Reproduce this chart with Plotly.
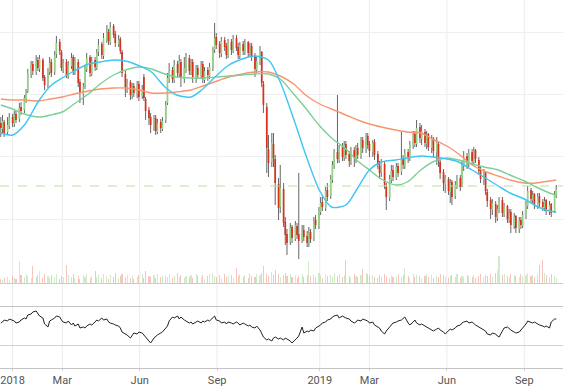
import pandas as pd
import plotly.graph_objects as go

# ---------------- price candles (one candle every 2 trading days) ----------------
opens = [160,154,161,151,157,166,159,169,164,176,
         173,184,192,209,219,211,223,214,223,206,
         199,211,221,211,229,241,231,214,221,207,
         217,226,211,221,201,189,197,214,226,209,
         223,215,231,239,227,244,251,241,257,249,
         239,244,231,209,194,201,187,197,189,199,
         187,206,184,173,166,157,165,151,161,154,
         163,180,204,213,203,219,209,221,204,214,
         225,211,221,205,215,207,219,203,213,207,
         215,233,246,239,229,243,237,227,241,232,
         245,236,227,239,231,241,229,237,227,213,
         221,231,199,176,134,121,139,124,99,76,
         94,61,49,41,56,44,57,49,43,53,
         47,39,51,45,63,57,71,81,75,93,
         87,103,117,131,123,136,125,139,129,121,
         133,124,135,127,143,134,147,139,131,141,
         129,117,111,119,97,85,103,113,105,117,
         111,125,117,131,125,137,149,139,156,144,
         151,139,149,135,145,131,139,121,111,99,
         104,91,101,87,97,105,97,117,127,119,
         131,121,133,123,113,103,111,91,83,73,
         79,65,73,83,69,77,63,71,57,67,
         54,63,57,67,77,93,83,89,77,87,
         81,75,83,71,79,71,87]
highs = [166,168,163,166,170,169,172,172,180,181,
         188,194,214,222,222,228,226,228,225,208,
         215,226,224,232,247,244,233,224,224,222,
         230,228,226,224,204,200,218,230,228,226,
         226,234,244,241,250,258,254,261,259,252,
         248,246,233,212,204,203,200,200,202,202,
         198,209,186,176,170,168,168,164,164,166,
         182,210,220,216,223,222,228,224,226,230,
         228,224,224,218,218,222,222,216,216,220,
         236,260,250,242,246,246,240,244,244,248,
         248,240,241,242,244,242,240,240,230,226,
         237,232,202,180,148,150,150,128,105,118,
         100,66,54,60,58,62,60,110,58,58,
         52,56,54,66,68,76,86,88,96,100,
         108,122,134,188,138,140,142,142,132,136,
         136,138,140,146,146,150,150,142,143,144,
         132,122,124,122,100,108,118,118,120,120,
         151,128,134,134,142,152,152,163,160,158,
         154,152,150,148,146,146,141,124,114,108,
         106,104,103,102,108,108,122,132,130,134,
         134,136,134,126,116,114,112,94,86,84,
         82,78,86,86,80,78,74,74,70,68,
         66,66,72,82,97,95,92,90,90,90,
         84,86,84,82,80,92,98]
lows = [146,150,146,148,154,156,156,160,161,168,
        170,180,190,205,208,208,212,211,202,193,
        195,208,206,208,225,228,212,210,205,204,
        214,208,208,196,180,178,194,211,206,207,
        212,213,227,224,224,240,238,238,245,236,
        236,229,206,186,190,183,184,186,185,182,
        184,182,163,158,150,152,148,149,150,152,
        160,178,200,200,200,206,206,196,200,210,
        208,208,200,200,204,204,200,200,202,204,
        212,230,234,225,226,232,224,225,228,230,
        232,224,224,228,228,226,226,222,206,210,
        218,196,170,110,106,116,116,78,63,70,
        56,38,28,38,40,42,44,24,40,42,
        36,36,40,42,54,54,68,72,72,82,
        84,100,114,120,120,122,122,124,116,118,
        116,120,124,124,130,130,134,126,126,123,
        114,104,106,94,73,82,100,102,103,106,
        108,114,114,120,122,134,136,136,140,138,
        136,134,132,130,126,118,116,104,92,90,
        88,80,78,84,94,92,96,112,114,116,
        118,118,120,108,100,98,88,76,64,68,
        60,62,70,66,66,60,60,50,54,50,
        50,54,55,64,74,80,80,74,74,76,
        72,72,68,68,66,70,85]
closes = [155,162,150,158,165,160,168,163,175,172,
          185,190,210,218,212,222,215,224,205,198,
          212,220,210,228,240,232,215,220,208,218,
          225,212,222,200,190,196,215,225,210,222,
          216,230,238,228,245,250,242,256,248,240,
          243,232,210,195,200,188,196,190,198,186,
          194,185,172,165,158,164,152,160,155,162,
          178,205,212,204,218,210,222,205,215,224,
          212,220,206,214,208,218,204,212,208,216,
          232,245,238,230,242,236,228,240,233,244,
          235,228,238,232,240,230,236,226,214,222,
          232,200,178,135,120,140,125,100,75,95,
          60,48,40,55,45,58,48,42,52,46,
          40,50,44,62,58,72,80,76,92,86,
          104,118,130,124,135,126,138,128,122,132,
          125,134,128,142,135,146,138,132,140,128,
          118,110,120,98,86,104,112,106,116,110,
          124,118,130,126,138,148,140,155,145,152,
          140,148,136,144,132,140,122,110,100,105,
          92,100,86,98,104,96,118,126,120,130,
          122,132,124,112,104,110,92,82,74,80,
          66,74,82,70,76,64,70,58,66,55,
          62,58,68,78,92,84,88,78,86,80,
          76,82,72,78,70,88,94]
volumes = [4,3,5,6,3,7,5,4,22,8,
           6,9,7,5,17,6,8,12,5,9,
           7,5,8,6,9,4,7,6,18,8,
           6,9,5,7,4,8,6,9,5,7,
           12,6,8,5,9,7,4,8,6,10,
           5,7,9,6,8,5,7,4,6,8,
           9,5,12,7,6,8,5,9,6,7,
           8,6,9,5,7,10,6,8,5,7,
           6,8,5,9,7,6,8,4,7,9,
           10,7,6,8,5,9,6,7,8,5,
           15,7,9,6,8,5,10,7,6,9,
           8,10,17,9,7,11,8,13,9,6,
           8,10,7,9,6,8,5,7,9,6,
           8,22,7,9,6,10,8,5,9,7,
           8,6,10,7,9,6,8,23,7,5,
           9,7,6,8,14,10,9,7,8,6,
           5,8,6,9,7,5,8,6,7,9,
           6,8,15,7,5,9,6,8,7,5,
           7,9,6,8,5,7,6,9,8,6,
           5,7,8,6,9,5,7,6,8,7,
           6,8,5,7,9,6,8,7,9,6,
           10,13,27,8,9,7,6,9,8,7,
           6,9,7,8,10,7,8,6,9,18,
           23,10,8,6,9,7,5]
oscillator = [45,46,48,47,49,48,47,45,46,48,
              50,49,53,54,56,57,55,52,50,44,
              41,47,48,50,52,51,48,46,45,47,
              43,45,42,44,40,41,40,42,44,43,
              46,48,47,50,48,49,46,45,44,43,
              42,40,36,34,33,30,32,35,34,36,
              35,33,31,28,25,30,32,33,35,36,
              40,42,47,51,50,52,49,51,48,47,
              45,46,44,46,47,45,47,46,48,47,
              51,52,48,47,45,46,44,46,45,44,
              46,45,43,45,44,42,43,41,40,42,
              38,35,31,28,29,27,30,31,29,30,
              28,30,29,27,25,28,30,32,41,35,
              37,36,38,37,40,42,43,45,46,48,
              49,51,52,53,50,52,51,50,49,47,
              45,46,48,47,49,48,47,45,46,43,
              41,40,37,34,37,41,43,45,46,47,
              48,50,51,45,43,46,48,45,43,44,
              42,41,40,38,37,39,40,38,36,34,
              37,39,38,40,42,43,45,46,47,45,
              46,44,43,41,40,38,37,34,33,35,
              34,32,31,37,40,41,39,38,36,35,
              36,38,39,44,47,46,45,46,44,43,
              42,41,42,40,46,49,49]

# ---------------- moving averages (sampled on the 1st/15th of each month) ----------------
ma_dates = ["2017-12-18","2018-01-01","2018-01-15","2018-02-01","2018-02-15","2018-03-01",
            "2018-03-15","2018-04-01","2018-04-15","2018-05-01","2018-05-15","2018-06-01",
            "2018-06-15","2018-07-01","2018-07-15","2018-08-01","2018-08-15","2018-09-01",
            "2018-09-15","2018-10-01","2018-10-15","2018-11-01","2018-11-15","2018-12-01",
            "2018-12-15","2019-01-01","2019-01-15","2019-02-01","2019-02-15","2019-03-01",
            "2019-03-15","2019-04-01","2019-04-15","2019-05-01","2019-05-15","2019-06-01",
            "2019-06-15","2019-07-01","2019-07-15","2019-08-01","2019-08-15","2019-09-01",
            "2019-09-15","2019-10-01","2019-10-09"]
ma_fast = [150,148,158,182,197,205,212,219,221,223,222,217,211,196,188,186,194,208,218,224,227,
           223,201,164,129,92,76,78,95,113,121,123,125,127,126,124,121,113,106,97,90,84,77,72,71]
ma_mid = [178,174,169,166,168,171,179,189,199,208,213,216,214,209,206,205,205,206,207,208,209,
          209,204,189,175,157,145,134,122,113,104,98,101,113,121,125,123,119,116,113,108,102,96,90,88]
ma_slow = [184,183,183,182,184,186,189,192,194,195,195,193,190,190,191,193,197,202,206,209,211,
           211,207,199,188,179,174,168,163,159,156,153,151,150,144,137,129,118,112,107,103,100,100,102,103]
ref_level = 97

tick_dates = ["2018-01-01","2018-03-01","2018-06-01","2018-09-01",
              "2019-01-01","2019-03-01","2019-06-01","2019-09-01"]
tick_labels = ["2018","Mar","Jun","Sep","2019","Mar","Jun","Sep"]

# ---------------- build figure ----------------
n = len(closes)
dates = pd.bdate_range("2017-12-18", periods=2 * n)[::2][:n]

wx, wy = [], []
ux, uy, dx, dy = [], [], [], []
for d, o, h, l, c in zip(dates, opens, highs, lows, closes):
    wx += [d, d, None]
    wy += [l, h, None]
    lo, hi = min(o, c), max(o, c)
    if hi - lo < 1:
        hi = lo + 1
    if c >= o:
        ux += [d, d, None]; uy += [lo, hi, None]
    else:
        dx += [d, d, None]; dy += [lo, hi, None]

up_mask = [c >= o for o, c in zip(opens, closes)]

fig = go.Figure()

fig.add_trace(go.Bar(x=[d for d, m in zip(dates, up_mask) if m],
                     y=[v for v, m in zip(volumes, up_mask) if m],
                     marker=dict(color="rgba(160,215,150,0.5)", line=dict(width=0)),
                     width=1.3 * 86400000, xaxis="x", yaxis="y3"))
fig.add_trace(go.Bar(x=[d for d, m in zip(dates, up_mask) if not m],
                     y=[v for v, m in zip(volumes, up_mask) if not m],
                     marker=dict(color="rgba(238,140,120,0.5)", line=dict(width=0)),
                     width=1.3 * 86400000, xaxis="x", yaxis="y3"))

fig.add_trace(go.Scatter(x=wx, y=wy, mode="lines", line=dict(color="#656565", width=1),
                         xaxis="x", yaxis="y"))
fig.add_trace(go.Scatter(x=ux, y=uy, mode="lines", line=dict(color="#93d483", width=1.7),
                         xaxis="x", yaxis="y"))
fig.add_trace(go.Scatter(x=dx, y=dy, mode="lines", line=dict(color="#d8311c", width=1.7),
                         xaxis="x", yaxis="y"))

for vals, col in [(ma_slow, "#f8956f"), (ma_mid, "#7ccf97"), (ma_fast, "#3ec5f2")]:
    fig.add_trace(go.Scatter(x=ma_dates, y=vals, mode="lines",
                             line=dict(color=col, width=1.4, shape="spline", smoothing=0.8),
                             xaxis="x", yaxis="y"))

fig.add_trace(go.Scatter(x=dates, y=oscillator, mode="lines",
                         line=dict(color="#222222", width=1), xaxis="x2", yaxis="y2"))

shapes = []
for t in tick_dates:
    shapes.append(dict(type="line", xref="x", yref="paper", x0=t, x1=t, y0=0, y1=1,
                       line=dict(color="#ebebeb", width=1), layer="below"))
shapes.append(dict(type="line", xref="paper", yref="y", x0=0, x1=1, y0=ref_level, y1=ref_level,
                   line=dict(color="#b8e0a4", width=1.2, dash="dash")))

xr = ["2017-12-17", "2019-10-17"]
fig.update_layout(
    width=567, height=389,
    margin=dict(l=0, r=4, t=0, b=21),
    paper_bgcolor="white", plot_bgcolor="white",
    showlegend=False, hovermode=False, bargap=0,
    font=dict(family="Roboto, sans-serif", size=11, color="#555"),
    shapes=shapes,
    xaxis=dict(range=xr, anchor="y", showgrid=False, showticklabels=False, ticks="",
               showline=True, linecolor="#cccccc", linewidth=1, zeroline=False),
    xaxis2=dict(range=xr, anchor="y2", matches="x", showgrid=False, automargin=False,
                showline=True, mirror=True, linecolor="#c4c4c4", linewidth=1,
                ticks="outside", ticklen=2, tickcolor="#cccccc",
                tickmode="array", tickvals=tick_dates, ticktext=tick_labels,
                tickfont=dict(size=11, color="#555")),
    yaxis=dict(domain=[85 / 368, 1], range=[0, 283], showticklabels=False,
               tickmode="array", tickvals=[64, 126.25, 188.5, 250.75],
               gridcolor="#efefef", zeroline=False),
    yaxis3=dict(domain=[85 / 368, 1], range=[0, 283], overlaying="y", visible=False),
    yaxis2=dict(domain=[0, 61 / 368], range=[0, 61], showticklabels=False,
                tickmode="array", tickvals=[23], gridcolor="#d0d0d0", zeroline=False),
)

fig.write_html("out.html", config={"displayModeBar": False},
               post_script="document.body.style.margin='0';document.body.style.overflow='hidden';")
